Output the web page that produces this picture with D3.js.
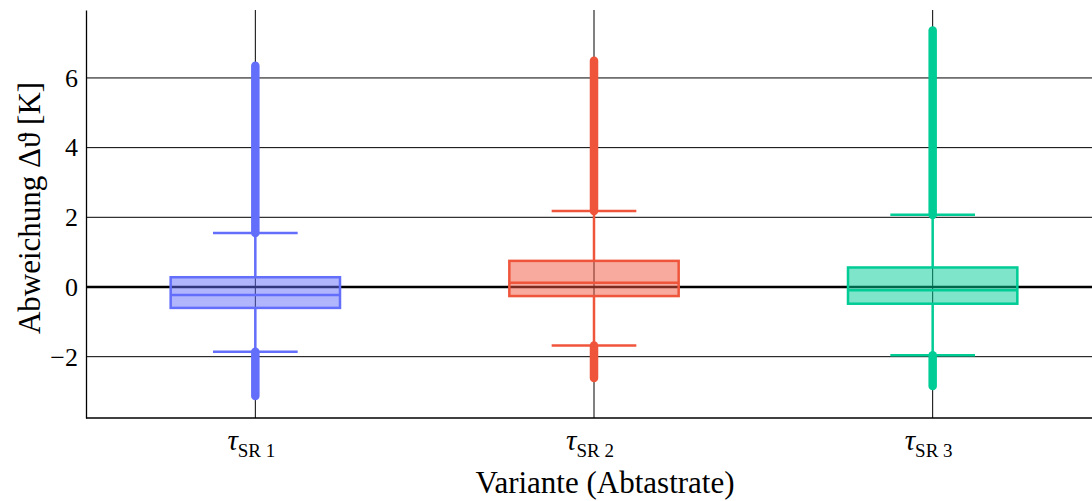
<!DOCTYPE html>
<html>
<head>
<meta charset="utf-8">
<script src="https://cdn.jsdelivr.net/npm/d3@7"></script>
<style>
  body { margin: 0; background: #fff; }
  svg text { font-family: "Liberation Serif", "Times New Roman", Tinos, "Nimbus Roman", "DejaVu Serif", serif !important; fill: #000; }
</style>
</head>
<body>
<div id="chart"></div>
<script>
// Box statistics per variant (values in K)
let categories = ['SR 1', 'SR 2', 'SR 3']
let q1 = [-0.60, -0.26, -0.48]
let median = [-0.23, 0.12, -0.09]
let q3 = [0.28, 0.75, 0.56]
let whiskerLow = [-1.86, -1.68, -1.96]
let whiskerHigh = [1.55, 2.18, 2.07]
let flierMin = [-3.13, -2.61, -2.84]
let flierMax = [6.35, 6.49, 7.36]
let yTicks = [-2, 0, 2, 4, 6]
let colors = ['#636efa', '#ef553b', '#00cc96']

let size = { width: 1092, height: 501 }
let plot = { left: 86, right: 1102, top: 10, bottom: 418 }
let serif = '"Liberation Serif", "Times New Roman", Tinos, "DejaVu Serif", serif'

let data = categories.map((name, i) => ({
  name,
  pos: i + 1,
  q1: q1[i],
  median: median[i],
  q3: q3[i],
  lo: whiskerLow[i],
  hi: whiskerHigh[i],
  fmin: flierMin[i],
  fmax: flierMax[i],
  color: colors[i]
}))

let x = d3.scaleLinear()
  .domain([0.5, 3.5])
  .range([plot.left, plot.right])
let y = d3.scaleLinear()
  .domain([-3.76, 7.95])
  .range([plot.bottom, plot.top])

let svg = d3.select('#chart').append('svg')
  .attr('width', size.width)
  .attr('height', size.height)
  .attr('font-family', serif)

// Grid lines
svg.append('g')
  .selectAll('line')
  .data(yTicks)
  .enter()
  .append('line')
  .attr('x1', plot.left)
  .attr('x2', size.width)
  .attr('y1', d => y(d))
  .attr('y2', d => y(d))
  .attr('stroke', '#000')
  .attr('stroke-width', d => d === 0 ? 2.5 : 1)

svg.append('g')
  .selectAll('line')
  .data(data)
  .enter()
  .append('line')
  .attr('x1', d => x(d.pos))
  .attr('x2', d => x(d.pos))
  .attr('y1', plot.top)
  .attr('y2', plot.bottom)
  .attr('stroke', '#000')
  .attr('stroke-width', 1)

// Axes (left and bottom spines, labels only)
let yAxis = svg.append('g')
  .attr('transform', `translate(${plot.left}, 0)`)
  .call(d3.axisLeft(y).tickValues(yTicks).tickSize(0).tickPadding(8)
    .tickFormat(d => d < 0 ? '\u2212' + Math.abs(d) : d))
yAxis.attr('font-family', serif)
yAxis.select('.domain').attr('stroke-width', 1.3)
yAxis.selectAll('text')
  .attr('font-family', serif)
  .style('font-size', '26px')

let xAxis = svg.append('g')
  .attr('transform', `translate(0, ${plot.bottom})`)
  .call(d3.axisBottom(x).tickValues(data.map(d => d.pos)).tickSize(0).tickFormat(''))
xAxis.select('.domain').attr('stroke-width', 1.3)
  .attr('d', `M${plot.left},0H${size.width}`)

// Category labels with subscript
let labels = svg.append('g')
  .selectAll('text')
  .data(data)
  .enter()
  .append('text')
  .attr('x', d => x(d.pos) - 4)
  .attr('y', 450)
  .attr('text-anchor', 'middle')
labels.append('tspan')
  .style('font-style', 'italic')
  .style('font-size', '29px')
  .text('\u03c4')
labels.append('tspan')
  .style('font-size', '19px')
  .attr('dy', 7)
  .text(d => d.name)

// Boxes
let boxW = (x(2) - x(1)) * 0.5
let capW = boxW * 0.5

let g = svg.append('g')
  .selectAll('g')
  .data(data)
  .enter()
  .append('g')

// Outliers (densely packed fliers)
g.append('line')
  .attr('x1', d => x(d.pos)).attr('x2', d => x(d.pos))
  .attr('y1', d => y(d.hi)).attr('y2', d => y(d.fmax))
  .attr('stroke', d => d.color).attr('stroke-width', 8.5)
  .attr('stroke-linecap', 'round')
g.append('line')
  .attr('x1', d => x(d.pos)).attr('x2', d => x(d.pos))
  .attr('y1', d => y(d.lo)).attr('y2', d => y(d.fmin))
  .attr('stroke', d => d.color).attr('stroke-width', 8.5)
  .attr('stroke-linecap', 'round')

// Whiskers
g.append('line')
  .attr('x1', d => x(d.pos)).attr('x2', d => x(d.pos))
  .attr('y1', d => y(d.lo)).attr('y2', d => y(d.q1))
  .attr('stroke', d => d.color).attr('stroke-width', 2.5)
g.append('line')
  .attr('x1', d => x(d.pos)).attr('x2', d => x(d.pos))
  .attr('y1', d => y(d.q3)).attr('y2', d => y(d.hi))
  .attr('stroke', d => d.color).attr('stroke-width', 2.5)

// Caps
g.selectAll('.cap')
  .data(d => [{ v: d.lo, d }, { v: d.hi, d }])
  .enter()
  .append('line')
  .attr('class', 'cap')
  .attr('x1', c => x(c.d.pos) - capW / 2)
  .attr('x2', c => x(c.d.pos) + capW / 2)
  .attr('y1', c => y(c.v)).attr('y2', c => y(c.v))
  .attr('stroke', c => c.d.color).attr('stroke-width', 2.5)

// Box body
g.append('rect')
  .attr('x', d => x(d.pos) - boxW / 2)
  .attr('width', boxW)
  .attr('y', d => y(d.q3))
  .attr('height', d => y(d.q1) - y(d.q3))
  .attr('fill', d => d.color)
  .attr('fill-opacity', 0.5)
  .attr('stroke', d => d.color)
  .attr('stroke-width', 2.5)

// Median
g.append('line')
  .attr('x1', d => x(d.pos) - boxW / 2)
  .attr('x2', d => x(d.pos) + boxW / 2)
  .attr('y1', d => y(d.median)).attr('y2', d => y(d.median))
  .attr('stroke', d => d.color).attr('stroke-width', 2.5)

// Axis titles
svg.append('text')
  .attr('transform', `translate(40, ${(plot.top + plot.bottom) / 2 - 6}) rotate(-90)`)
  .attr('text-anchor', 'middle')
  .style('font-size', '31px')
  .text('Abweichung \u0394\u03d1 [K]')

svg.append('text')
  .attr('x', 605)
  .attr('y', 493)
  .attr('text-anchor', 'middle')
  .style('font-size', '31px')
  .text('Variante (Abtastrate)')
</script>
</body>
</html>
